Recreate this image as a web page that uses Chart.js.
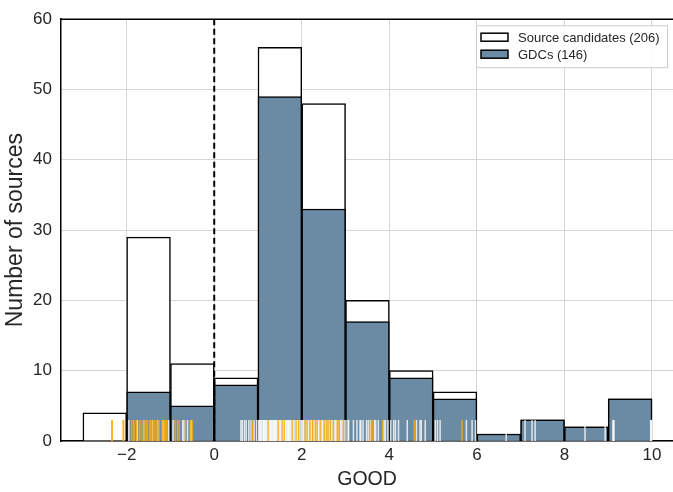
<!DOCTYPE html>
<html>
<head>
<meta charset="utf-8">
<script src="https://cdn.jsdelivr.net/npm/chart.js@4.4.0/dist/chart.umd.min.js"></script>
<style>
  html, body { margin: 0; padding: 0; background: #fff; }
</style>
</head>
<body>
<canvas id="chart" width="673" height="492"></canvas>
<script>
// histogram bins (width 1), centres
const binCenters = [-2.5, -1.5, -0.5, 0.5, 1.5, 2.5, 3.5, 4.5, 5.5, 6.5, 7.5, 8.5, 9.5];
const candidateCounts = [4, 29, 11, 9, 56, 48, 20, 10, 7, 1, 3, 2, 6];
const gdcCounts = [0, 7, 5, 8, 49, 33, 17, 9, 6, 1, 3, 2, 6];

const xTickValues = [-2, 0, 2, 4, 6, 8, 10];
const yTickValues = [0, 10, 20, 30, 40, 50, 60];

// rug values
const gdcRug = [
  -1.95, -1.76, -1.61, -1.41, -1.29, -1.17, -1.04,
  -0.94, -0.72, -0.69, -0.61, -0.53,
  0.61, 0.64, 0.69, 0.73, 0.79, 0.84, 0.91, 0.97,
  1.01, 1.03, 1.05, 1.07, 1.09, 1.12, 1.13, 1.16, 1.18, 1.20,
  1.22, 1.25, 1.27, 1.29, 1.30, 1.32, 1.34, 1.36, 1.39, 1.41,
  1.43, 1.45, 1.48, 1.50, 1.52, 1.54, 1.57, 1.59, 1.60, 1.62,
  1.64, 1.66, 1.68, 1.70, 1.73, 1.75, 1.77, 1.80, 1.82, 1.85,
  1.87, 1.89, 1.91, 1.94, 1.96, 1.99, 1.14, 1.38, 1.71,
  2.01, 2.03, 2.05, 2.09, 2.10, 2.14, 2.16, 2.20, 2.22, 2.27,
  2.29, 2.33, 2.37, 2.39, 2.40, 2.44, 2.47, 2.49, 2.53, 2.55,
  2.58, 2.62, 2.63, 2.67, 2.70, 2.74, 2.77, 2.79, 2.83, 2.88,
  2.91, 2.94, 2.98,
  3.01, 3.06, 3.07, 3.18, 3.26, 3.33, 3.35, 3.40, 3.48, 3.52,
  3.57, 3.66, 3.69, 3.75, 3.88, 3.91, 3.97,
  4.03, 4.10, 4.14, 4.21, 4.41, 4.62, 4.70, 4.73, 4.82,
  5.05, 5.10, 5.16, 5.76, 5.89, 5.97,
  6.67,
  7.10, 7.26, 7.33,
  8.47, 8.93,
  9.11, 9.12, 9.13, 9.97, 9.98, 9.99
];
const otherRug = [
  -2.34, -2.33, -2.08, -2.07,
  -1.89, -1.85, -1.83, -1.78, -1.71, -1.67, -1.62, -1.58, -1.55, -1.53, -1.48,
  -1.46, -1.42, -1.37, -1.33, -1.30, -1.26, -1.19, -1.14, -1.12, -1.10, -1.08,
  -0.89, -0.84, -0.80, -0.66, -0.55, -0.50,
  0.87,
  1.23, 1.46, 1.55, 1.60, 1.78, 1.87, 1.93,
  2.08, 2.12, 2.19, 2.25, 2.31, 2.35, 2.42, 2.51, 2.56, 2.60, 2.65, 2.72, 2.81, 2.85, 2.95,
  3.55, 3.61, 3.84,
  4.57,
  5.66
];
const rugHeight = 3;   // in y units
const zeroLine = 0;

const FONT = "'Liberation Sans', Arial, sans-serif";
const TEXT = '#262626';

// dashed line, rug, top spine and the boxed legend
const overlays = {
  id: 'overlays',
  afterDatasetsDraw(chart) {
    const { ctx, chartArea: a, scales: { x, y } } = chart;
    ctx.save();

    // rug
    const yb = y.getPixelForValue(0);
    const yt = y.getPixelForValue(rugHeight);
    ctx.lineWidth = 1.5;
    ctx.strokeStyle = 'rgba(255,255,255,0.8)';
    gdcRug.forEach(v => {
      const px = x.getPixelForValue(v);
      ctx.beginPath(); ctx.moveTo(px, yb); ctx.lineTo(px, yt); ctx.stroke();
    });
    ctx.strokeStyle = 'rgba(255,170,0,0.8)';
    otherRug.forEach(v => {
      const px = x.getPixelForValue(v);
      ctx.beginPath(); ctx.moveTo(px, yb); ctx.lineTo(px, yt); ctx.stroke();
    });

    // dashed line at zero
    const zx = x.getPixelForValue(zeroLine);
    ctx.strokeStyle = '#000';
    ctx.lineWidth = 2;
    ctx.setLineDash([6, 3.5]);
    ctx.beginPath(); ctx.moveTo(zx, a.top); ctx.lineTo(zx, a.bottom); ctx.stroke();
    ctx.setLineDash([]);

    // top spine
    ctx.lineWidth = 1.5;
    ctx.beginPath(); ctx.moveTo(a.left, a.top); ctx.lineTo(a.right, a.top); ctx.stroke();

    // legend
    const lw = 191, lh = 42;
    const lx = a.right - 6 - lw, ly = a.top + 6;
    ctx.fillStyle = 'rgba(255,255,255,0.85)';
    ctx.fillRect(lx, ly, lw, lh);
    ctx.strokeStyle = '#cccccc';
    ctx.lineWidth = 1;
    ctx.strokeRect(lx + 0.5, ly + 0.5, lw, lh);
    ctx.font = '13px ' + FONT;
    ctx.textBaseline = 'middle';
    chart.data.datasets.forEach((ds, i) => {
      const cy = ly + 12 + i * 17;
      ctx.fillStyle = ds.backgroundColor;
      ctx.fillRect(lx + 5, cy - 4, 27, 8);
      ctx.strokeStyle = '#000';
      ctx.lineWidth = 1.5;
      ctx.strokeRect(lx + 5, cy - 4, 27, 8);
      ctx.fillStyle = TEXT;
      ctx.fillText(ds.label, lx + 42, cy + 1);
    });
    ctx.restore();
  }
};

const minus = v => String(v).replace('-', '\u2212');

new Chart(document.getElementById('chart'), {
  type: 'bar',
  data: {
    datasets: [
      {
        label: 'Source candidates (206)',
        data: binCenters.map((c, i) => ({ x: c, y: candidateCounts[i] })),
        backgroundColor: '#ffffff',
        borderColor: '#000000',
        borderWidth: 1.5,
        order: 2
      },
      {
        label: 'GDCs (146)',
        data: binCenters.map((c, i) => ({ x: c, y: gdcCounts[i] || null })),
        backgroundColor: '#6b8ba4',
        borderColor: '#000000',
        borderWidth: 1.5,
        order: 1
      }
    ]
  },
  options: {
    responsive: false,
    animation: false,
    layout: { padding: { top: 12, right: 0, left: 0, bottom: 0 } },
    datasets: { bar: { grouped: false, barPercentage: 1, categoryPercentage: 1 } },
    plugins: { legend: { display: false }, tooltip: { enabled: false } },
    scales: {
      x: {
        type: 'linear',
        min: -3.5,
        max: 10.48,
        offset: false,
        afterBuildTicks: s => { s.ticks = xTickValues.map(v => ({ value: v })); },
        afterFit: s => { s.height = 51; },
        grid: { color: '#d6d6d6', lineWidth: 1, drawTicks: false, offset: false },
        border: { color: '#000', width: 1.5 },
        ticks: { color: TEXT, font: { family: FONT, size: 17 }, padding: 4, callback: minus, maxRotation: 0 },
        title: { display: true, text: 'GOOD', color: TEXT, font: { family: FONT, size: 19.5 }, padding: { top: 0, bottom: 1 } }
      },
      y: {
        min: 0,
        max: 60,
        afterBuildTicks: s => { s.ticks = yTickValues.map(v => ({ value: v })); },
        afterFit: s => { s.width = 61; },
        grid: { color: '#d6d6d6', lineWidth: 1, drawTicks: false },
        border: { color: '#000', width: 1.5 },
        ticks: { color: TEXT, font: { family: FONT, size: 17 }, padding: 9 },
        title: { display: true, text: 'Number of sources', color: TEXT, font: { family: FONT, size: 23 }, padding: { top: 2, bottom: 0 } }
      }
    }
  },
  plugins: [overlays]
});
</script>
</body>
</html>
